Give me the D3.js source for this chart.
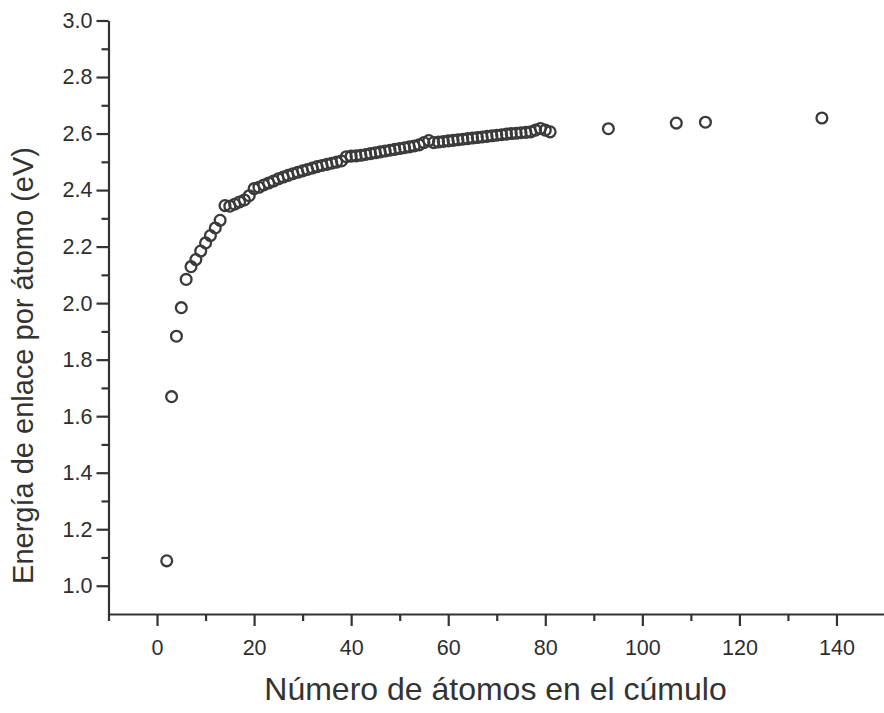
<!DOCTYPE html>
<html>
<head>
<meta charset="utf-8">
<script src="https://cdn.jsdelivr.net/npm/d3@7"></script>
<style>
  html, body { margin: 0; padding: 0; background: #fff; }
  svg { display: block; }
  .axis path, .axis line { stroke: #333; stroke-width: 2.2; }
  .axis text { fill: #2e2e2e; font-family: "Liberation Sans", Arial, sans-serif; }
</style>
</head>
<body>
<script>
// Cluster size (number of atoms) and binding energy per atom (eV)
const atoms = [
  2, 3, 4, 5, 6, 7, 8, 9, 10, 11, 12, 13, 14, 15, 16, 17, 18, 19, 20,
  21, 22, 23, 24, 25, 26, 27, 28, 29, 30, 31, 32, 33, 34, 35, 36, 37, 38, 39, 40,
  41, 42, 43, 44, 45, 46, 47, 48, 49, 50, 51, 52, 53, 54, 55, 56, 57, 58, 59, 60,
  61, 62, 63, 64, 65, 66, 67, 68, 69, 70, 71, 72, 73, 74, 75, 76, 77, 78, 79, 80, 81,
  93, 107, 113, 137
];
const energy = [
  1.088, 1.669, 1.883, 1.984, 2.084, 2.129, 2.154, 2.184, 2.213, 2.239, 2.266, 2.293, 2.345, 2.343, 2.350, 2.358, 2.365, 2.380, 2.405,
  2.410, 2.418, 2.425, 2.432, 2.440, 2.446, 2.452, 2.458, 2.463, 2.468, 2.473, 2.478, 2.483, 2.487, 2.491, 2.495, 2.499, 2.503, 2.518, 2.520,
  2.521, 2.523, 2.526, 2.529, 2.532, 2.535, 2.538, 2.541, 2.544, 2.547, 2.550, 2.553, 2.556, 2.560, 2.568, 2.575, 2.568, 2.570, 2.572, 2.574,
  2.576, 2.578, 2.580, 2.582, 2.584, 2.586, 2.588, 2.590, 2.592, 2.594, 2.596, 2.598, 2.600, 2.601, 2.603, 2.604, 2.606, 2.612, 2.618, 2.612, 2.606,
  2.617, 2.637, 2.640, 2.655
];

const xMajor = [0, 20, 40, 60, 80, 100, 120, 140];
const xMinor = [-10, 10, 30, 50, 70, 90, 110, 130];
const yMajor = [1.0, 1.2, 1.4, 1.6, 1.8, 2.0, 2.2, 2.4, 2.6, 2.8, 3.0];
const yMinor = [1.1, 1.3, 1.5, 1.7, 1.9, 2.1, 2.3, 2.5, 2.7, 2.9];

const xTitle = "Número de átomos en el cúmulo";
const yTitle = "Energía de enlace por átomo (eV)";

const W = 884, H = 713;
const svg = d3.select("body").append("svg").attr("width", W).attr("height", H);

const x = d3.scaleLinear().domain([-10, 150]).range([108.5, 885]);
const y = d3.scaleLinear().domain([0.9, 3.0]).range([614, 20.5]);

const font = "'Liberation Sans', Arial, sans-serif";

// Minor ticks
svg.append("g").attr("class", "axis").attr("transform", `translate(0,${y(0.9)})`)
  .call(d3.axisBottom(x).tickValues(xMinor).tickSize(7).tickFormat(""))
  .call(g => g.select(".domain").remove());
svg.append("g").attr("class", "axis").attr("transform", `translate(${x(-10)},0)`)
  .call(d3.axisLeft(y).tickValues(yMinor).tickSize(7).tickFormat(""))
  .call(g => g.select(".domain").remove());

// Major axes
svg.append("g").attr("class", "axis").attr("transform", `translate(0,${y(0.9)})`)
  .call(d3.axisBottom(x).tickValues(xMajor).tickSize(12).tickSizeOuter(0).tickPadding(14).tickFormat(d3.format("d")))
  .call(g => g.selectAll("text").attr("font-size", 21.5));
svg.append("g").attr("class", "axis").attr("transform", `translate(${x(-10)},0)`)
  .call(d3.axisLeft(y).tickValues(yMajor).tickSize(12).tickSizeOuter(0).tickPadding(4).tickFormat(d3.format(".1f")))
  .call(g => g.selectAll("text").attr("font-size", 21.5));

// Data points: open circles
const pts = atoms.map((n, i) => ({ n, e: energy[i] }));
svg.append("g").selectAll("circle").data(pts).join("circle")
  .attr("cx", d => x(d.n))
  .attr("cy", d => y(d.e))
  .attr("r", 5.4)
  .attr("fill", "none")
  .attr("stroke", "#3a3a3a")
  .attr("stroke-width", 2.3);

// Axis titles
svg.append("text")
  .attr("x", 495.5).attr("y", 700)
  .attr("text-anchor", "middle")
  .attr("font-family", font).attr("font-size", 32).attr("fill", "#333")
  .text(xTitle);
svg.append("text")
  .attr("transform", `translate(33,365.5) rotate(-90)`)
  .attr("text-anchor", "middle")
  .attr("font-family", font).attr("font-size", 29).attr("fill", "#333")
  .text(yTitle);
</script>
</body>
</html>
